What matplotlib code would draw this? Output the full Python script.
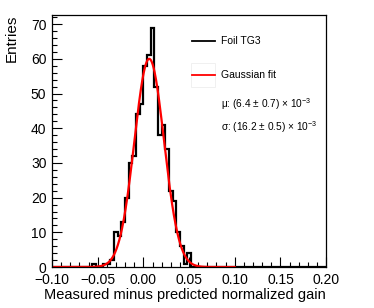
import numpy as np
import matplotlib.pyplot as plt
import matplotlib.ticker as tkr
from matplotlib.patches import Rectangle

plt.rcParams['font.family'] = ['Liberation Sans', 'DejaVu Sans']
plt.rcParams['mathtext.fontset'] = 'custom'
plt.rcParams['mathtext.rm'] = 'Liberation Sans'
plt.rcParams['mathtext.it'] = 'Liberation Sans'

# DATA
##############################################################################
hist_range = (-0.10, 0.20)
n_bins = 75
first_bin = 11   # index of first filled bin (lower edge -0.056)
filled_counts = [1, 0, 0, 1, 1, 2, 10, 9, 13, 20, 30, 32, 44, 47, 58, 61,
                 69, 52, 38, 41, 34, 22, 19, 10, 6, 1, 4]

fit_amp = 60.0
fit_mean = 6.4e-3
fit_sigma = 16.2e-3
fit_range = (-0.10, 0.10)

x_ticks = [-0.10, -0.05, 0.00, 0.05, 0.10, 0.15, 0.20]
y_ticks = [0, 10, 20, 30, 40, 50, 60, 70]
##############################################################################

edges = np.linspace(hist_range[0], hist_range[1], n_bins + 1)
counts = np.zeros(n_bins)
counts[first_bin:first_bin + len(filled_counts)] = filled_counts

fit_x = np.linspace(fit_range[0], fit_range[1], 400)
fit_y = fit_amp * np.exp(-0.5 * ((fit_x - fit_mean) / fit_sigma) ** 2)

fig = plt.figure(figsize=(3.74, 3.08), dpi=100)
ax = fig.add_axes([0.139, 0.133, 0.733, 0.818])

ax.stairs(counts, edges, color='black', lw=1.6)
ax.plot(fit_x, fit_y, color='red', lw=1.6)

ax.set_xlim(hist_range)
ax.set_ylim(0, 72.6)
ax.set_xticks(x_ticks)
ax.set_yticks(y_ticks)
ax.xaxis.set_minor_locator(tkr.MultipleLocator(0.01))
ax.yaxis.set_minor_locator(tkr.MultipleLocator(2))
ax.xaxis.set_major_formatter(tkr.FuncFormatter(lambda v, _: f'{v:.2f}'.replace('-', '\u2212')))
ax.tick_params(which='both', direction='in', top=False, right=False, labelsize=10)
ax.tick_params(axis='y', pad=4)
ax.tick_params(axis='x', pad=4)
ax.tick_params(which='major', length=7, width=0.8)
ax.tick_params(which='minor', length=3.5, width=0.8)
for s in ax.spines.values():
    s.set_linewidth(0.9)

ax.set_xlabel('Measured minus predicted normalized gain', fontsize=10.5, loc='right', labelpad=1)
ax.set_ylabel('Entries', fontsize=11, loc='top', labelpad=9)

# legend drawn by hand
ax.add_patch(Rectangle((0.508, 0.715), 0.088, 0.095, transform=ax.transAxes,
                       fill=False, ec='#eeeeee', lw=0.6))
ax.plot([0.51, 0.595], [0.897, 0.897], color='black', lw=1.3, transform=ax.transAxes)
ax.plot([0.51, 0.595], [0.762, 0.762], color='red', lw=1.3, transform=ax.transAxes)
ax.text(0.617, 0.897, 'Foil TG3', fontsize=7.5, va='center', transform=ax.transAxes)
ax.text(0.617, 0.762, 'Gaussian fit', fontsize=7.5, va='center', transform=ax.transAxes)
ax.text(0.617, 0.647, '\u03bc: (6.4 \u00b1 0.7) \u00d7 10$^{-3}$', fontsize=7.3, va='center',
        transform=ax.transAxes)
ax.text(0.617, 0.556, '\u03c3: (16.2 \u00b1 0.5) \u00d7 10$^{-3}$', fontsize=7.3, va='center',
        transform=ax.transAxes)

fig.savefig('out.png', dpi=100)
